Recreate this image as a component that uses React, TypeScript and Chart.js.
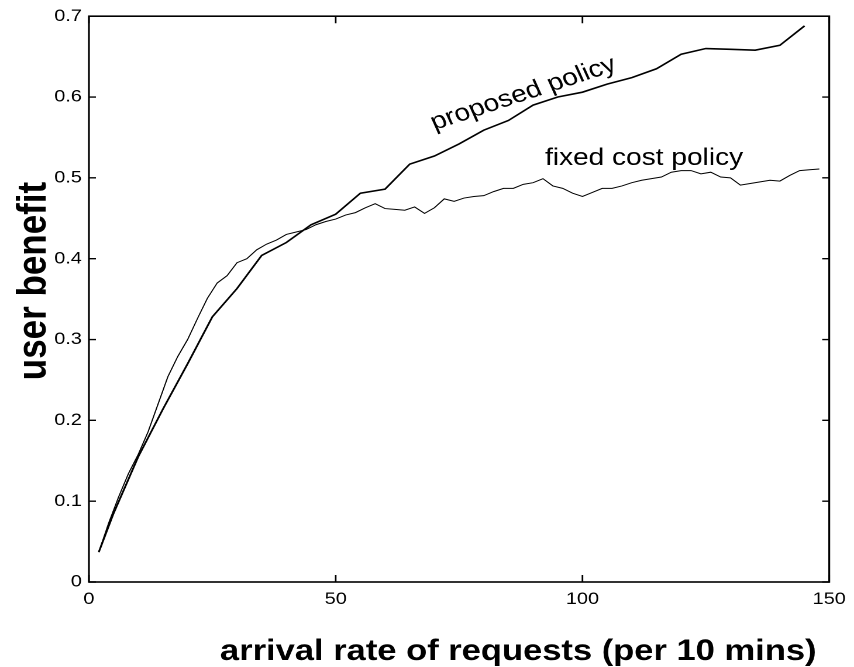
import { useEffect, useRef } from 'react';
import { Chart, registerables } from 'chart.js';

Chart.register(...registerables);

// Arrival rate (requests per 10 mins) sampled for each policy
const fixedX = [
  2, 4, 6, 8, 10, 12, 14, 16, 18, 20, 22, 24, 26, 28, 30, 32, 34, 36, 38, 40,
  42, 44, 46, 48, 50, 52, 54, 56, 58, 60, 62, 64, 66, 68, 70, 72, 74, 76, 78, 80,
  82, 84, 86, 88, 90, 92, 94, 96, 98, 100, 102, 104, 106, 108, 110, 112, 114, 116, 118, 120,
  122, 124, 126, 128, 130, 132, 134, 136, 138, 140, 142, 144, 146, 148,
];
const fixedCost = [
  0.037, 0.073, 0.105, 0.134, 0.158, 0.186, 0.220, 0.254, 0.279, 0.300,
  0.326, 0.351, 0.370, 0.379, 0.395, 0.400, 0.411, 0.418, 0.423, 0.430,
  0.433, 0.436, 0.442, 0.446, 0.449, 0.454, 0.457, 0.463, 0.468, 0.462,
  0.461, 0.460, 0.464, 0.456, 0.463, 0.474, 0.471, 0.475, 0.477, 0.478,
  0.483, 0.487, 0.487, 0.492, 0.494, 0.499, 0.490, 0.487, 0.481, 0.477,
  0.482, 0.487, 0.487, 0.490, 0.494, 0.497, 0.499, 0.501, 0.507, 0.509,
  0.509, 0.505, 0.507, 0.501, 0.500, 0.491, 0.493, 0.495, 0.497, 0.496,
  0.503, 0.509, 0.510, 0.511,
];

const proposedX = [
  2, 5, 10, 15, 20, 25, 30, 35, 40, 45, 50, 55, 60, 65, 70, 75, 80, 85, 90, 95,
  100, 105, 110, 115, 120, 125, 130, 135, 140, 145,
];
const proposedPolicy = [
  0.037, 0.085, 0.155, 0.214, 0.270, 0.328, 0.363, 0.404, 0.420, 0.442,
  0.455, 0.481, 0.486, 0.517, 0.527, 0.542, 0.559, 0.571, 0.590, 0.600,
  0.606, 0.616, 0.624, 0.635, 0.653, 0.660, 0.659, 0.658, 0.664, 0.688,
];

const xTicks = [0, 50, 100, 150];
const yTicks = [0, 0.1, 0.2, 0.3, 0.4, 0.5, 0.6, 0.7];

const xTitle = 'arrival rate of requests (per 10 mins)';
const yTitle = 'user benefit';
const proposedLabel = 'proposed policy';
const fixedLabel = 'fixed cost policy';

const FONT = '"Liberation Sans", Arial, Helvetica, sans-serif';
const CANVAS_W = 730;
const CANVAS_H = 667;
const STRETCH = 854 / CANVAS_W;

const toPoints = (xs: number[], ys: number[]) => xs.map((x, i) => ({ x, y: ys[i] }));

// Frame, inward tick marks, axis titles and curve labels
const framePlugin = {
  id: 'frame',
  afterDatasetsDraw(chart: any) {
    const { ctx, chartArea } = chart;
    const { left, right, top, bottom } = chartArea;
    const xs = chart.scales.x;
    const ys = chart.scales.y;
    ctx.save();
    ctx.strokeStyle = '#000';
    ctx.lineWidth = 1.6;
    ctx.strokeRect(left, top, right - left, bottom - top);

    ctx.lineWidth = 1.4;
    ctx.beginPath();
    for (const v of xTicks) {
      const px = xs.getPixelForValue(v);
      ctx.moveTo(px, bottom);
      ctx.lineTo(px, bottom - 7);
      ctx.moveTo(px, top);
      ctx.lineTo(px, top + 7);
    }
    for (const v of yTicks) {
      const py = ys.getPixelForValue(v);
      ctx.moveTo(left, py);
      ctx.lineTo(left + 6, py);
      ctx.moveTo(right, py);
      ctx.lineTo(right - 6, py);
    }
    ctx.stroke();

    ctx.fillStyle = '#000';
    ctx.textBaseline = 'alphabetic';

    // x axis title
    ctx.font = `bold 29.5px ${FONT}`;
    ctx.textAlign = 'center';
    ctx.fillText(xTitle, 443, 660);

    // y axis title
    ctx.save();
    ctx.translate(39, 281);
    ctx.rotate(-Math.PI / 2);
    ctx.font = `bold 35px ${FONT}`;
    ctx.textAlign = 'center';
    ctx.fillText(yTitle, 0, 0);
    ctx.restore();

    // curve labels
    ctx.font = `24px ${FONT}`;
    ctx.textAlign = 'left';
    ctx.save();
    ctx.translate(xs.getPixelForValue(70), ys.getPixelForValue(0.559));
    ctx.rotate((-21 * Math.PI) / 180);
    ctx.fillText(proposedLabel, 0, 0);
    ctx.restore();

    ctx.fillText(fixedLabel, xs.getPixelForValue(92.4), ys.getPixelForValue(0.516));
    ctx.restore();
  },
};

export default function App() {
  const canvasRef = useRef<HTMLCanvasElement | null>(null);

  useEffect(() => {
    const canvas = canvasRef.current;
    if (!canvas) return;
    const chart = new Chart(canvas, {
      type: 'line',
      data: {
        datasets: [
          {
            label: proposedLabel,
            data: toPoints(proposedX, proposedPolicy),
            borderColor: '#000',
            borderWidth: 1.6,
            pointRadius: 0,
            tension: 0,
            fill: false,
          },
          {
            label: fixedLabel,
            data: toPoints(fixedX, fixedCost),
            borderColor: '#000',
            borderWidth: 1,
            pointRadius: 0,
            tension: 0,
            fill: false,
          },
        ],
      },
      options: {
        responsive: false,
        animation: false,
        devicePixelRatio: 2,
        layout: { padding: { top: 16, right: 18, left: 0, bottom: 0 } },
        plugins: {
          legend: { display: false },
          tooltip: { enabled: false },
        },
        scales: {
          x: {
            type: 'linear',
            min: 0,
            max: 150,
            grid: { display: false, drawTicks: false },
            border: { display: false },
            afterBuildTicks: (scale: any) => {
              scale.ticks = xTicks.map((value) => ({ value }));
            },
            afterFit: (scale: any) => {
              scale.height = 85;
            },
            ticks: {
              color: '#000',
              padding: 7,
              maxRotation: 0,
              font: { family: FONT, size: 17 },
              callback: (v: any) => String(v),
            },
          },
          y: {
            type: 'linear',
            min: 0,
            max: 0.7,
            grid: { display: false, drawTicks: false },
            border: { display: false },
            afterBuildTicks: (scale: any) => {
              scale.ticks = yTicks.map((value) => ({ value }));
            },
            afterFit: (scale: any) => {
              scale.width = 76;
            },
            ticks: {
              color: '#000',
              padding: 6,
              font: { family: FONT, size: 17 },
              callback: (v: any) => (Number(v) === 0 ? '0' : Number(v).toFixed(1)),
            },
          },
        },
      },
      plugins: [framePlugin],
    });
    return () => chart.destroy();
  }, []);

  return (
    <div style={{ position: 'fixed', inset: 0, overflow: 'hidden', background: '#fff' }}>
      <div
        style={{
          position: 'absolute',
          left: 0,
          top: 0,
          width: CANVAS_W,
          height: CANVAS_H,
          transform: `scaleX(${STRETCH})`,
          transformOrigin: '0 0',
        }}
      >
        <canvas
          ref={canvasRef}
          width={CANVAS_W}
          height={CANVAS_H}
          style={{ display: 'block', width: CANVAS_W, height: CANVAS_H }}
        />
      </div>
    </div>
  );
}
